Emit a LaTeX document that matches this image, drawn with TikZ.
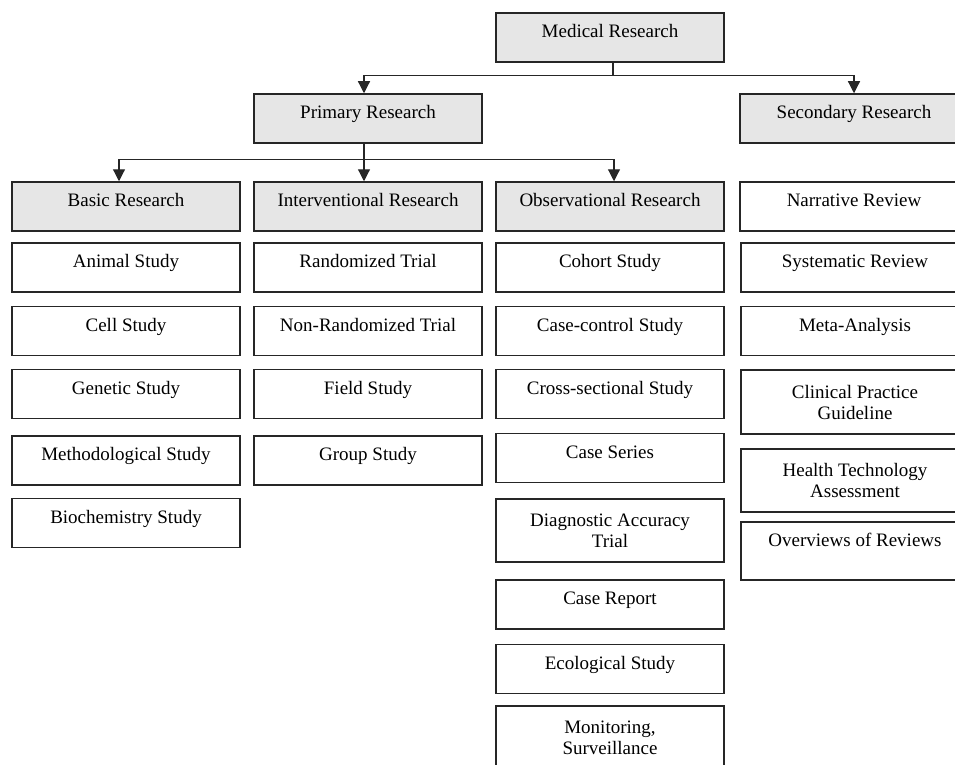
\documentclass[tikz,border=0pt]{standalone}
\usepackage{fontspec}
\setmainfont{Liberation Serif}
\usetikzlibrary{arrows.meta,calc}
\definecolor{hdrgray}{HTML}{E6E6E6}
\definecolor{edge}{HTML}{262626}
\begin{document}
\begin{tikzpicture}[x=1pt,y=-1pt,
  box/.style={draw=edge, line width=1.5pt, minimum width=228pt, minimum height=49pt,
    inner sep=0pt, font=\fontsize{19}{21}\selectfont, align=center},
  hdr/.style={box, fill=hdrgray},
  oneline/.style={text height=13pt, text depth=13pt},
  arr/.style={draw=edge, line width=1.2pt, -{Triangle[length=12pt,width=12pt]}},
  link/.style={draw=edge, line width=1.2pt}
]
\useasboundingbox (0,0) rectangle (955,765);
\clip (0,0) rectangle (955,765);

% top levels
\node[hdr, oneline] (med)  at (610,37.5)  {Medical Research};
\node[hdr, oneline] (prim) at (368,118.5) {Primary Research};
\node[hdr, oneline] (sec)  at (854,118.5) {Secondary Research};

% headers
\node[hdr, oneline] (basic)  at (126,206.5) {Basic Research};
\node[hdr, oneline] (interv) at (368,206.5) {Interventional Research};
\node[hdr, oneline] (obs)    at (610,206.5) {Observational Research};
\node[box, oneline] (narr)   at (854,206.5) {Narrative Review};

% basic column
\node[box, oneline] (animal)  at (126,267.5) {Animal Study};
\node[box, oneline] (cell)    at (126,331)   {Cell Study};
\node[box, oneline] (genetic) at (126,394)   {Genetic Study};
\node[box, oneline] (method)  at (126,460.5) {Methodological Study};
\node[box, oneline] (biochem) at (126,523)   {Biochemistry Study};

% interventional column
\node[box, oneline] (rand)    at (368,267.5) {Randomized Trial};
\node[box, oneline] (nonrand) at (368,331)   {Non-Randomized Trial};
\node[box, oneline] (field)   at (368,394)   {Field Study};
\node[box, oneline] (group)   at (368,460.5) {Group Study};

% observational column
\node[box, oneline] (cohort)  at (610,267.5) {Cohort Study};
\node[box, oneline] (casecon) at (610,331)   {Case-control Study};
\node[box, oneline] (cross)   at (610,394)   {Cross-sectional Study};
\node[box, oneline] (series)  at (610,458)   {Case Series};
\node[box, minimum height=63pt] (diag) at (610,530.5) {Diagnostic Accuracy\\Trial};
\node[box, oneline] (report)  at (610,604.5) {Case Report};
\node[box, oneline] (eco)     at (610,669)   {Ecological Study};
\node[box, minimum height=63pt] (monit) at (610,737.5) {Monitoring,\\Surveillance};

% secondary column
\node[box, oneline] (sys)  at (855,267.5) {Systematic Review};
\node[box, oneline] (meta) at (855,331)   {Meta-Analysis};
\node[box, minimum height=64pt] (clin) at (855,402) {Clinical Practice\\Guideline};
\node[box, minimum height=63pt] (hta)  at (855,480.5) {Health Technology\\Assessment};
\node[box, minimum height=58pt, text height=13pt, text depth=22pt] (over) at (855,551) {Overviews of Reviews};

% connectors
\coordinate (mjoin) at ($(med.south)+(3,13)$);
\draw[link] ($(med.south)+(3,0)$) -- (mjoin);
\draw[arr] (mjoin) -| ($(prim.north)+(-4,0)$);
\draw[arr] (mjoin) -| (sec.north);

\coordinate (pjoin) at ($(prim.south)+(-4,16)$);
\draw[link] ($(prim.south)+(-4,0)$) -- (pjoin);
\draw[arr] (pjoin) -| ($(basic.north)+(-7,0)$);
\draw[arr] (pjoin) -- ($(interv.north)+(-4,0)$);
\draw[arr] (pjoin) -| ($(obs.north)+(4,0)$);
\end{tikzpicture}
\end{document}
